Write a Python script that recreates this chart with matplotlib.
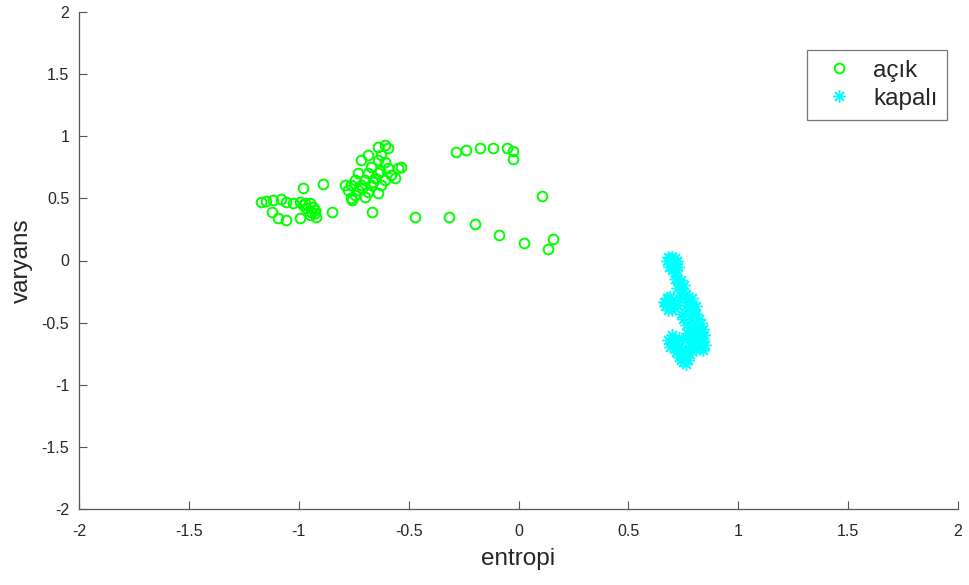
import matplotlib
matplotlib.use("Agg")
import matplotlib.pyplot as plt

# --- data: "açık" (open) ---
acik_x = [-0.283, -0.238, -0.174, -0.114, -0.053, -0.023, -0.023, 0.108,
          -0.473, -0.317, -0.197, -0.091, 0.024, 0.159, 0.133,
          -0.850, -0.665, -0.759,
          -0.980, -0.890,
          -1.170, -1.147, -1.117, -1.079, -1.056, -1.026, -0.995, -0.973, -0.950,
          -0.935, -0.927, -0.942, -0.950, -0.927, -1.124, -1.094, -1.056, -0.995,
          -0.965, -0.980, -0.923,
          -0.609, -0.594, -0.640, -0.685, -0.624, -0.715, -0.640, -0.609, -0.670,
          -0.594, -0.548, -0.533, -0.730, -0.685, -0.640, -0.579, -0.745, -0.700,
          -0.655, -0.609, -0.564, -0.790, -0.760, -0.715, -0.670, -0.624, -0.776,
          -0.730, -0.685, -0.640, -0.745, -0.700, -0.760, -0.630, -0.660, -0.710]
acik_y = [0.876, 0.889, 0.903, 0.903, 0.908, 0.881, 0.817, 0.522,
          0.348, 0.350, 0.291, 0.203, 0.143, 0.171, 0.095,
          0.393, 0.393, 0.490,
          0.586, 0.616,
          0.473, 0.481, 0.487, 0.493, 0.473, 0.460, 0.473, 0.460, 0.460,
          0.433, 0.406, 0.393, 0.366, 0.380, 0.393, 0.340, 0.326, 0.340,
          0.420, 0.447, 0.350,
          0.930, 0.903, 0.916, 0.849, 0.849, 0.809, 0.809, 0.795, 0.755,
          0.742, 0.742, 0.755, 0.702, 0.702, 0.702, 0.688, 0.648, 0.648,
          0.661, 0.648, 0.661, 0.608, 0.608, 0.608, 0.608, 0.608, 0.567,
          0.567, 0.554, 0.541, 0.527, 0.514, 0.500, 0.720, 0.630, 0.580]

# --- data: "kapalı" (closed) ---
kapali_x = [0.69, 0.70, 0.71, 0.69, 0.70, 0.715, 0.70, 0.71,
            0.675, 0.685, 0.72, 0.725, 0.68, 0.715,
            0.72, 0.73, 0.74, 0.75, 0.76,
            0.71, 0.74, 0.72, 0.755, 0.74,
            0.68, 0.67, 0.69, 0.70, 0.69, 0.71, 0.70,
            0.66, 0.675, 0.665, 0.68, 0.72, 0.72, 0.685,
            0.77, 0.78, 0.79, 0.80, 0.81, 0.82, 0.80, 0.78, 0.77, 0.76, 0.79,
            0.82, 0.83, 0.84, 0.83, 0.82, 0.80, 0.78, 0.76, 0.75, 0.74,
            0.84, 0.845, 0.85, 0.83, 0.81, 0.79, 0.76, 0.765, 0.77, 0.80,
            0.82, 0.81, 0.84,
            0.70, 0.71, 0.72, 0.70, 0.73, 0.74, 0.75, 0.74, 0.75, 0.76, 0.77,
            0.78, 0.76, 0.81, 0.83,
            0.68, 0.69, 0.715, 0.73, 0.72, 0.76, 0.77, 0.78, 0.73]
kapali_y = [0.02, 0.03, 0.02, -0.02, -0.05, -0.03, -0.08, -0.10,
            0.00, -0.05, 0.00, -0.05, 0.03, -0.07,
            -0.15, -0.19, -0.22, -0.25, -0.27,
            -0.15, -0.16, -0.22, -0.20, -0.28,
            -0.30, -0.34, -0.36, -0.32, -0.29, -0.38, -0.40,
            -0.33, -0.30, -0.37, -0.40, -0.33, -0.36, -0.33,
            -0.30, -0.33, -0.37, -0.40, -0.43, -0.47, -0.50, -0.45, -0.40, -0.36, -0.52,
            -0.55, -0.60, -0.65, -0.70, -0.67, -0.60, -0.57, -0.52, -0.47, -0.43,
            -0.55, -0.60, -0.68, -0.50, -0.37, -0.30, -0.31, -0.58, -0.62, -0.65,
            -0.62, -0.55, -0.72,
            -0.60, -0.63, -0.66, -0.68, -0.70, -0.73, -0.76, -0.80, -0.82, -0.78, -0.72,
            -0.68, -0.64, -0.72, -0.68,
            -0.64, -0.70, -0.74, -0.78, -0.70, -0.83, -0.80, -0.75, -0.62]

ticks = [-2, -1.5, -1, -0.5, 0, 0.5, 1, 1.5, 2]
tick_labels = ["-2", "-1.5", "-1", "-0.5", "0", "0.5", "1", "1.5", "2"]

plt.rcParams['font.family'] = ['Liberation Sans', 'DejaVu Sans']

fig = plt.figure(figsize=(9.69, 5.85), dpi=100)
ax = fig.add_axes([79/969, 1 - 509/585, (958 - 79)/969, (509 - 12)/585])

ax.plot(acik_x, acik_y, linestyle='none', marker='o', markersize=7,
        markerfacecolor='none', markeredgecolor=(0, 1, 0), markeredgewidth=1.4,
        label='açık')
ax.plot(kapali_x, kapali_y, linestyle='none', marker=(8, 2, 0), markersize=9,
        markeredgecolor=(0, 1, 1), markerfacecolor=(0, 1, 1), markeredgewidth=1.0,
        label='kapalı')

ax.set_xlim(-2, 2)
ax.set_ylim(-2, 2)
ax.set_xticks(ticks)
ax.set_xticklabels(tick_labels)
ax.set_yticks(ticks)
ax.set_yticklabels(tick_labels)

for s in ['top', 'right']:
    ax.spines[s].set_visible(False)
for s in ['left', 'bottom']:
    ax.spines[s].set_color('#555555')
    ax.spines[s].set_linewidth(0.9)
ax.tick_params(direction='in', length=6, width=0.8, color='#555555',
               labelsize=11.5, labelcolor='#262626')
ax.tick_params(axis='x', pad=11)
ax.tick_params(axis='y', pad=7)

ax.set_xlabel('entropi', fontsize=17.5, color='#262626', labelpad=6)
ax.set_ylabel('varyans', fontsize=17.5, color='#262626', labelpad=6)

leg = ax.legend(loc='upper right', bbox_to_anchor=(0.9875, 0.9235), fontsize=17.5,
                frameon=True, fancybox=False, edgecolor='#555555',
                borderpad=0.4, handlelength=1.8, handletextpad=0.5,
                labelspacing=0.25, borderaxespad=0)
leg.get_frame().set_linewidth(0.9)
for t in leg.get_texts():
    t.set_color('#262626')

fig.savefig('out.png', dpi=100)
